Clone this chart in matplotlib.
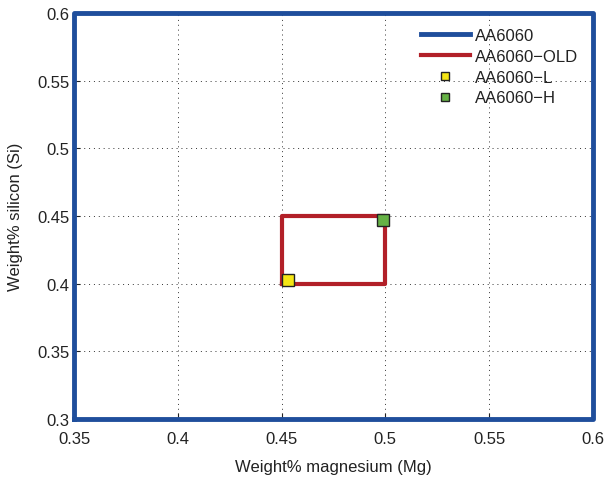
import matplotlib
matplotlib.use('Agg')
import matplotlib.pyplot as plt

# composition limits (Mg range, Si range)
AA6060_MG = [0.35, 0.60]
AA6060_SI = [0.30, 0.60]
OLD_MG = [0.45, 0.50]
OLD_SI = [0.40, 0.45]

# individual alloys (Mg, Si)
L_MG, L_SI = 0.453, 0.403
H_MG, H_SI = 0.499, 0.447

X_TICKS = [0.35, 0.4, 0.45, 0.5, 0.55, 0.6]
Y_TICKS = [0.3, 0.35, 0.4, 0.45, 0.5, 0.55, 0.6]


def box(mg, si):
    xs = [mg[0], mg[1], mg[1], mg[0], mg[0]]
    ys = [si[0], si[0], si[1], si[1], si[0]]
    return xs, ys


def main():
    plt.rcParams['font.family'] = 'Liberation Sans'
    fig = plt.figure(figsize=(6.08, 4.81), dpi=100)
    ax = fig.add_axes([0.122, 0.127, 0.853, 0.844])

    x, y = box(AA6060_MG, AA6060_SI)
    ax.plot(x, y, color='#1f4e9c', lw=3.5, clip_on=False, label='AA6060', zorder=5)
    x, y = box(OLD_MG, OLD_SI)
    ax.plot(x, y, color='#b22028', lw=3, label='AA6060\u2212OLD', zorder=3)
    ax.plot([L_MG], [L_SI], 's', ms=9, mfc='#f5e614', mec='#222222', mew=1,
            ls='none', label='AA6060\u2212L', zorder=4)
    ax.plot([H_MG], [H_SI], 's', ms=9, mfc='#66b245', mec='#222222', mew=1,
            ls='none', label='AA6060\u2212H', zorder=4)

    ax.set_xlim(0.35, 0.6)
    ax.set_ylim(0.3, 0.6)
    ax.set_xticks(X_TICKS)
    ax.set_yticks(Y_TICKS)
    ax.set_xticklabels([f'{v:g}' for v in X_TICKS])
    ax.set_yticklabels([f'{v:g}' for v in Y_TICKS])
    ax.tick_params(direction='in', labelsize=12, length=4, colors='#222222')
    ax.tick_params(axis='x', pad=9)
    ax.grid(True, color='#333333', ls=(0, (1, 4)), lw=0.7)

    ax.set_xlabel('Weight% magnesium (Mg)', fontsize=12, color='#222222', labelpad=9)
    ax.set_ylabel('Weight% silicon (Si)', fontsize=12, color='#222222', labelpad=10)

    leg = ax.legend(loc='upper right', frameon=False, fontsize=12,
                    handlelength=2.95, handletextpad=0.3, labelspacing=0.35,
                    borderaxespad=0.5, markerscale=0.6)
    for t in leg.get_texts():
        t.set_color('#222222')

    fig.savefig('out.png', dpi=100)


if __name__ == '__main__':
    main()
